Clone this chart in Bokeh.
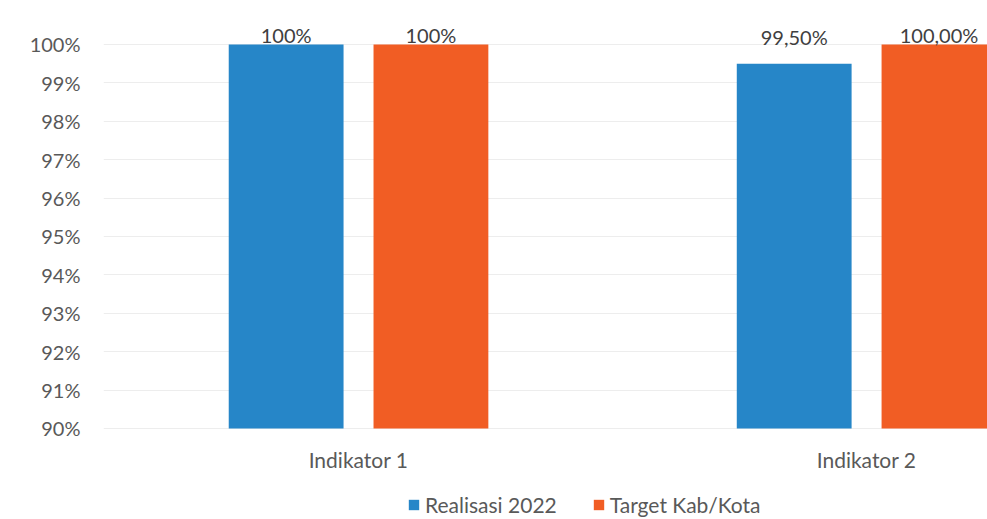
from bokeh.plotting import figure
from bokeh.models import Range1d, FixedTicker, PrintfTickFormatter, Legend, LegendItem, ColumnDataSource
from bokeh.core.properties import value
from bokeh.embed import file_html
from bokeh.resources import INLINE

# ---- data ----
categories = ["Indikator 1", "Indikator 2"]
realisasi = [100.0, 99.5]
target = [100.0, 100.0]
realisasi_labels = ["100%", "99,50%"]
target_labels = ["100%", "100,00%"]
y_ticks = [90, 91, 92, 93, 94, 95, 96, 97, 98, 99, 100]
axis_min = 90
axis_max = 100

FONT = "Lato"
BLUE = "#2686C8"
ORANGE = "#F15D24"

centers = [i + 0.5 for i in range(len(categories))]
offset = 0.1425
bar_w = 0.226

src_r = ColumnDataSource(dict(
    x=[c - offset for c in centers], top=realisasi, text=realisasi_labels,
    ly=[min(v + 0.47, axis_max) for v in realisasi]))
src_t = ColumnDataSource(dict(
    x=[c + offset for c in centers], top=target, text=target_labels,
    ly=[min(v + 0.47, axis_max) for v in target]))

p = figure(width=987, height=519, output_backend="svg", toolbar_location=None,
           x_range=Range1d(-0.002, 1.738), y_range=Range1d(87.63, 100.625),
           min_border_left=103, min_border_right=0, min_border_top=20,
           min_border_bottom=0)
p.outline_line_color = None
p.background_fill_color = "white"
p.border_fill_color = "white"
p.xgrid.grid_line_color = None
p.ygrid.grid_line_color = "#EDEDED"
p.ygrid.ticker = FixedTicker(ticks=y_ticks)

p.yaxis.ticker = FixedTicker(ticks=y_ticks)
p.yaxis.formatter = PrintfTickFormatter(format="%d%%")
p.yaxis.axis_line_color = None
p.yaxis.major_tick_line_color = None
p.yaxis.minor_tick_line_color = None
p.yaxis.major_label_standoff = 17
p.yaxis.major_label_text_font = FONT
p.yaxis.major_label_text_font_size = "20px"
p.yaxis.major_label_text_color = "#595959"

p.xaxis.fixed_location = axis_min
p.xaxis.ticker = FixedTicker(ticks=centers)
p.xaxis.major_label_overrides = {c: name for c, name in zip(centers, categories)}
p.xaxis.axis_line_color = None
p.xaxis.major_tick_line_color = None
p.xaxis.minor_tick_line_color = None
p.xaxis.major_label_standoff = 13
p.xaxis.major_label_text_font = FONT
p.xaxis.major_label_text_font_size = "21px"
p.xaxis.major_label_text_color = "#595959"

r1 = p.vbar(x="x", top="top", bottom=axis_min, width=bar_w, source=src_r,
            fill_color=BLUE, line_color=None)
r2 = p.vbar(x="x", top="top", bottom=axis_min, width=bar_w, source=src_t,
            fill_color=ORANGE, line_color=None)

for src in (src_r, src_t):
    p.text(x="x", y="ly", text="text", source=src, text_align="center",
           text_baseline="middle", y_offset=-9, text_font=value(FONT),
           text_font_size="20px", text_color="#404040")

legend = Legend(items=[LegendItem(label="Realisasi 2022", renderers=[r1]),
                       LegendItem(label="Target Kab/Kota", renderers=[r2])],
                orientation="horizontal", location=(304, 2), padding=0, margin=0,
                spacing=35, label_standoff=5, glyph_width=13, glyph_height=13,
                border_line_color=None, background_fill_alpha=0,
                label_text_font=FONT, label_text_font_size="21px",
                label_text_color="#595959")
p.add_layout(legend, "center")

open("out.html", "w").write(file_html(p, INLINE))
